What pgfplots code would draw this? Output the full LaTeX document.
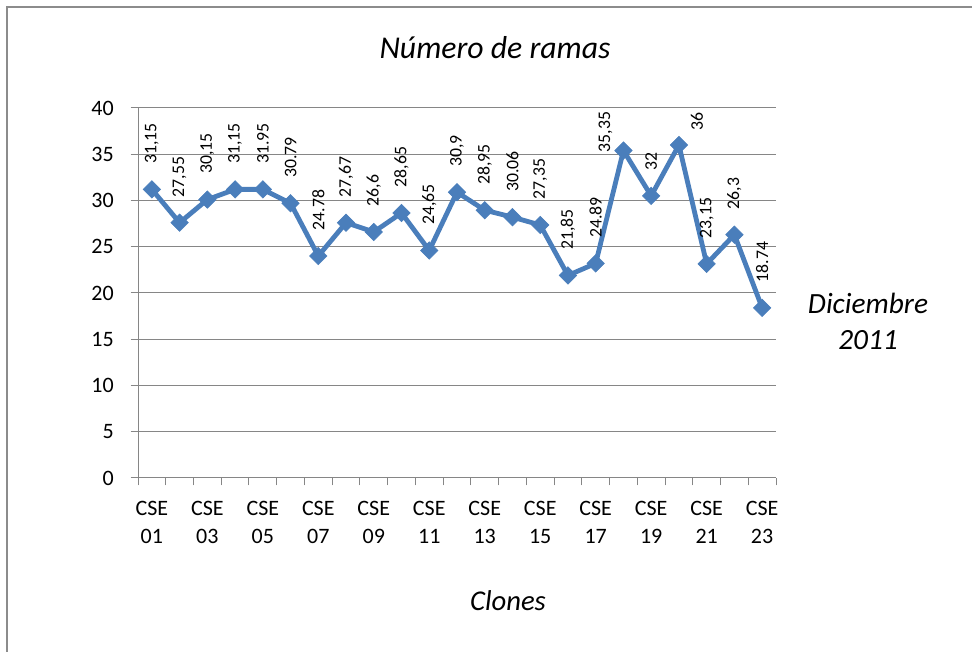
\documentclass[border=0pt]{standalone}
\usepackage{pgfplots}
\pgfplotsset{compat=1.18}
\usepackage{pgfplotstable}
\usepackage{fontspec}
\setmainfont{Carlito}
\definecolor{serie}{HTML}{4A7EBB}
\definecolor{grid}{HTML}{868686}
\definecolor{frame}{HTML}{8C8C8C}
\pgfplotstableread{
x y lab
1 31.2 {31,15}
2 27.6 {27,55}
3 30.1 {30,15}
4 31.2 {31,15}
5 31.2 {31.95}
6 29.7 {30.79}
7 24.0 {24.78}
8 27.6 {27,67}
9 26.6 {26,6}
10 28.65 {28,65}
11 24.6 {24,65}
12 30.9 {30,9}
13 28.95 {28,95}
14 28.2 {30.06}
15 27.35 {27,35}
16 21.9 {21,85}
17 23.2 {24.89}
18 35.4 {}
19 30.5 {32}
20 36.0 {}
21 23.15 {23,15}
22 26.3 {26,3}
23 18.4 {18.74}
}\datatable
\begin{document}
\begin{tikzpicture}
\path[use as bounding box] (0,0) rectangle (729pt,489pt);
\draw[frame, line width=1.5pt] (5.6pt,0) -- (5.6pt,483.75pt) -- (729pt,483.75pt);
\begin{axis}[
  at={(103.5pt,130.5pt)}, anchor=south west,
  scale only axis, width=478.5pt, height=277.5pt,
  xmin=0.5, xmax=23.5, ymin=0, ymax=40,
  ytick={0,5,...,40},
  xtick={1,3,...,23},
  xticklabels={{CSE\\01},{CSE\\03},{CSE\\05},{CSE\\07},{CSE\\09},{CSE\\11},{CSE\\13},{CSE\\15},{CSE\\17},{CSE\\19},{CSE\\21},{CSE\\23}},
  minor xtick={0.5,1.5,...,23.5},
  xtick style={draw=none},
  minor tick length=5.5pt,
  major tick length=5.5pt,
  ytick style={draw=grid, line width=0.75pt},
  minor x tick style={draw=grid, line width=0.75pt},
  tick align=outside,
  ymajorgrids, major grid style={draw=grid, line width=0.75pt},
  axis x line*=bottom, axis y line*=left,
  axis line style={draw=grid, line width=0.75pt, -},
  /pgf/number format/assume math mode=true,
  tick label style={font=\fontsize{16.5}{21}\selectfont},
  xticklabel style={align=center, inner sep=0pt, yshift=-12pt},
  yticklabel style={inner sep=0pt, xshift=-12.5pt},
  clip=false,
  point meta=explicit symbolic,
  every node near coord/.append style={font=\fontsize{13.3}{16}\selectfont, rotate=90, anchor=west, inner sep=0pt, text=black},
]
\addplot[serie, line width=3.6pt, mark=square*, mark size=4.6pt,
  mark options={rotate=45, solid, line width=0.5pt, fill=serie, draw=serie},
  nodes near coords, nodes near coords style={xshift=19pt}]
  table[x=x, y=y, meta=lab] {\datatable};
\addplot[draw=none, mark=none, nodes near coords,
  nodes near coords style={xshift=-1.5pt, yshift=13.5pt}]
  coordinates {(18,35.4) [35,35]};
\addplot[draw=none, mark=none, nodes near coords,
  nodes near coords style={xshift=11pt, yshift=-13.5pt}]
  coordinates {(20,36.0) [36]};
\end{axis}
\node[font=\fontsize{23.8}{28}\selectfont\itshape] at (371.25pt,453pt) {Número de ramas};
\node[font=\fontsize{21.5}{25}\selectfont\itshape] at (381pt,38.25pt) {Clones};
\node[font=\fontsize{22}{26}\selectfont\itshape] at (651pt,261.75pt) {Diciembre};
\node[font=\fontsize{22}{26}\selectfont\itshape] at (651pt,234pt) {2011};
\end{tikzpicture}
\end{document}
